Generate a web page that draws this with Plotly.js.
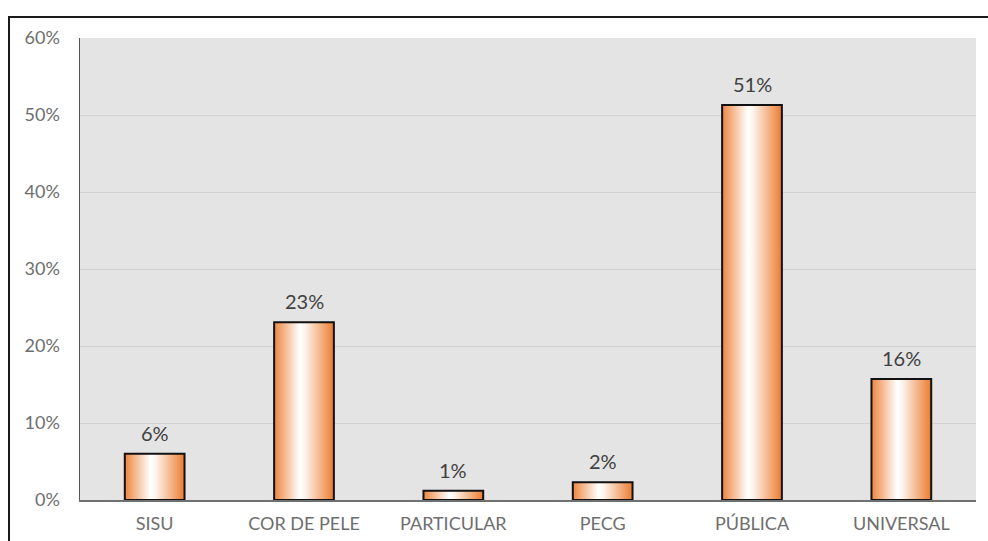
<!DOCTYPE html>
<html>
<head>
<meta charset="utf-8">
<script src="https://cdn.plot.ly/plotly-3.0.1.min.js"></script>
<style>
  html, body { margin: 0; padding: 0; background: #ffffff; }
  #wrap { position: relative; width: 988px; height: 541px; overflow: hidden; }
  #chart { position: absolute; left: 0; top: 0; width: 988px; height: 541px; }
  #frame { position: absolute; left: 8px; top: 16px; width: 1000px; height: 600px;
           border-top: 2px solid #1a1a1a; border-left: 2px solid #1a1a1a; pointer-events: none; }
</style>
</head>
<body>
<div id="wrap">
  <div id="chart"></div>
  <div id="frame"></div>
</div>
<script>
const categories = ["SISU", "COR DE PELE", "PARTICULAR", "PECG", "PÚBLICA", "UNIVERSAL"];
const values = [6.0, 23.1, 1.2, 2.3, 51.3, 15.7];
const labels = ["6%", "23%", "1%", "2%", "51%", "16%"];
const yTickVals = [0, 10, 20, 30, 40, 50, 60];
const yTickText = ["0%", "10%", "20%", "30%", "40%", "50%", "60%"];

const fontFam = "Lato, 'Open Sans', sans-serif";

const trace = {
  type: "bar",
  x: categories,
  y: values,
  width: 0.4,
  marker: { color: "#ed7d31", line: { color: "#111111", width: 2 } },
  hoverinfo: "none"
};

const annotations = categories.map((c, i) => ({
  x: c, y: values[i], xref: "x", yref: "y",
  text: labels[i], showarrow: false, yanchor: "bottom", yshift: 7,
  font: { family: fontFam, size: 20, color: "#404040" }
}));

const layout = {
  width: 988, height: 541,
  margin: { l: 80, r: 12, t: 38, b: 41 },
  paper_bgcolor: "rgba(0,0,0,0)",
  plot_bgcolor: "#e4e4e4",
  showlegend: false,
  bargap: 0.6,
  xaxis: {
    type: "category",
    showline: true, linecolor: "#707070", linewidth: 1.5,
    ticks: "outside", ticklen: 7, tickcolor: "rgba(0,0,0,0)",
    tickfont: { family: fontFam, size: 18, color: "#6e6e6e" },
    showgrid: false, zeroline: false, fixedrange: true
  },
  yaxis: {
    range: [0, 60],
    tickvals: yTickVals, ticktext: yTickText,
    showline: true, linecolor: "#555555", linewidth: 1.5,
    ticks: "outside", ticklen: 15, tickcolor: "rgba(0,0,0,0)",
    tickfont: { family: fontFam, size: 18, color: "#6e6e6e" },
    showgrid: true, gridcolor: "#d2d2d2", gridwidth: 1,
    zeroline: false, fixedrange: true
  },
  annotations: annotations
};

Plotly.newPlot("chart", [trace], layout, { displayModeBar: false, staticPlot: true }).then(gd => {
  const svg = gd.querySelector("svg.main-svg");
  const ns = "http://www.w3.org/2000/svg";
  let defs = svg.querySelector("defs");
  if (!defs) { defs = document.createElementNS(ns, "defs"); svg.insertBefore(defs, svg.firstChild); }
  const grad = document.createElementNS(ns, "linearGradient");
  grad.setAttribute("id", "barGrad");
  grad.setAttribute("x1", "0"); grad.setAttribute("y1", "0");
  grad.setAttribute("x2", "1"); grad.setAttribute("y2", "0");
  [["0", "#ee853f"], ["0.43", "#ffffff"], ["0.52", "#fdf3ec"], ["1", "#ec7c30"]].forEach(([o, c]) => {
    const s = document.createElementNS(ns, "stop");
    s.setAttribute("offset", o); s.setAttribute("stop-color", c);
    grad.appendChild(s);
  });
  defs.appendChild(grad);
  gd.querySelectorAll(".trace.bars .point path").forEach(p => {
    p.style.fill = "url(#barGrad)";
    p.style.fillOpacity = 1;
  });
});
</script>
</body>
</html>
